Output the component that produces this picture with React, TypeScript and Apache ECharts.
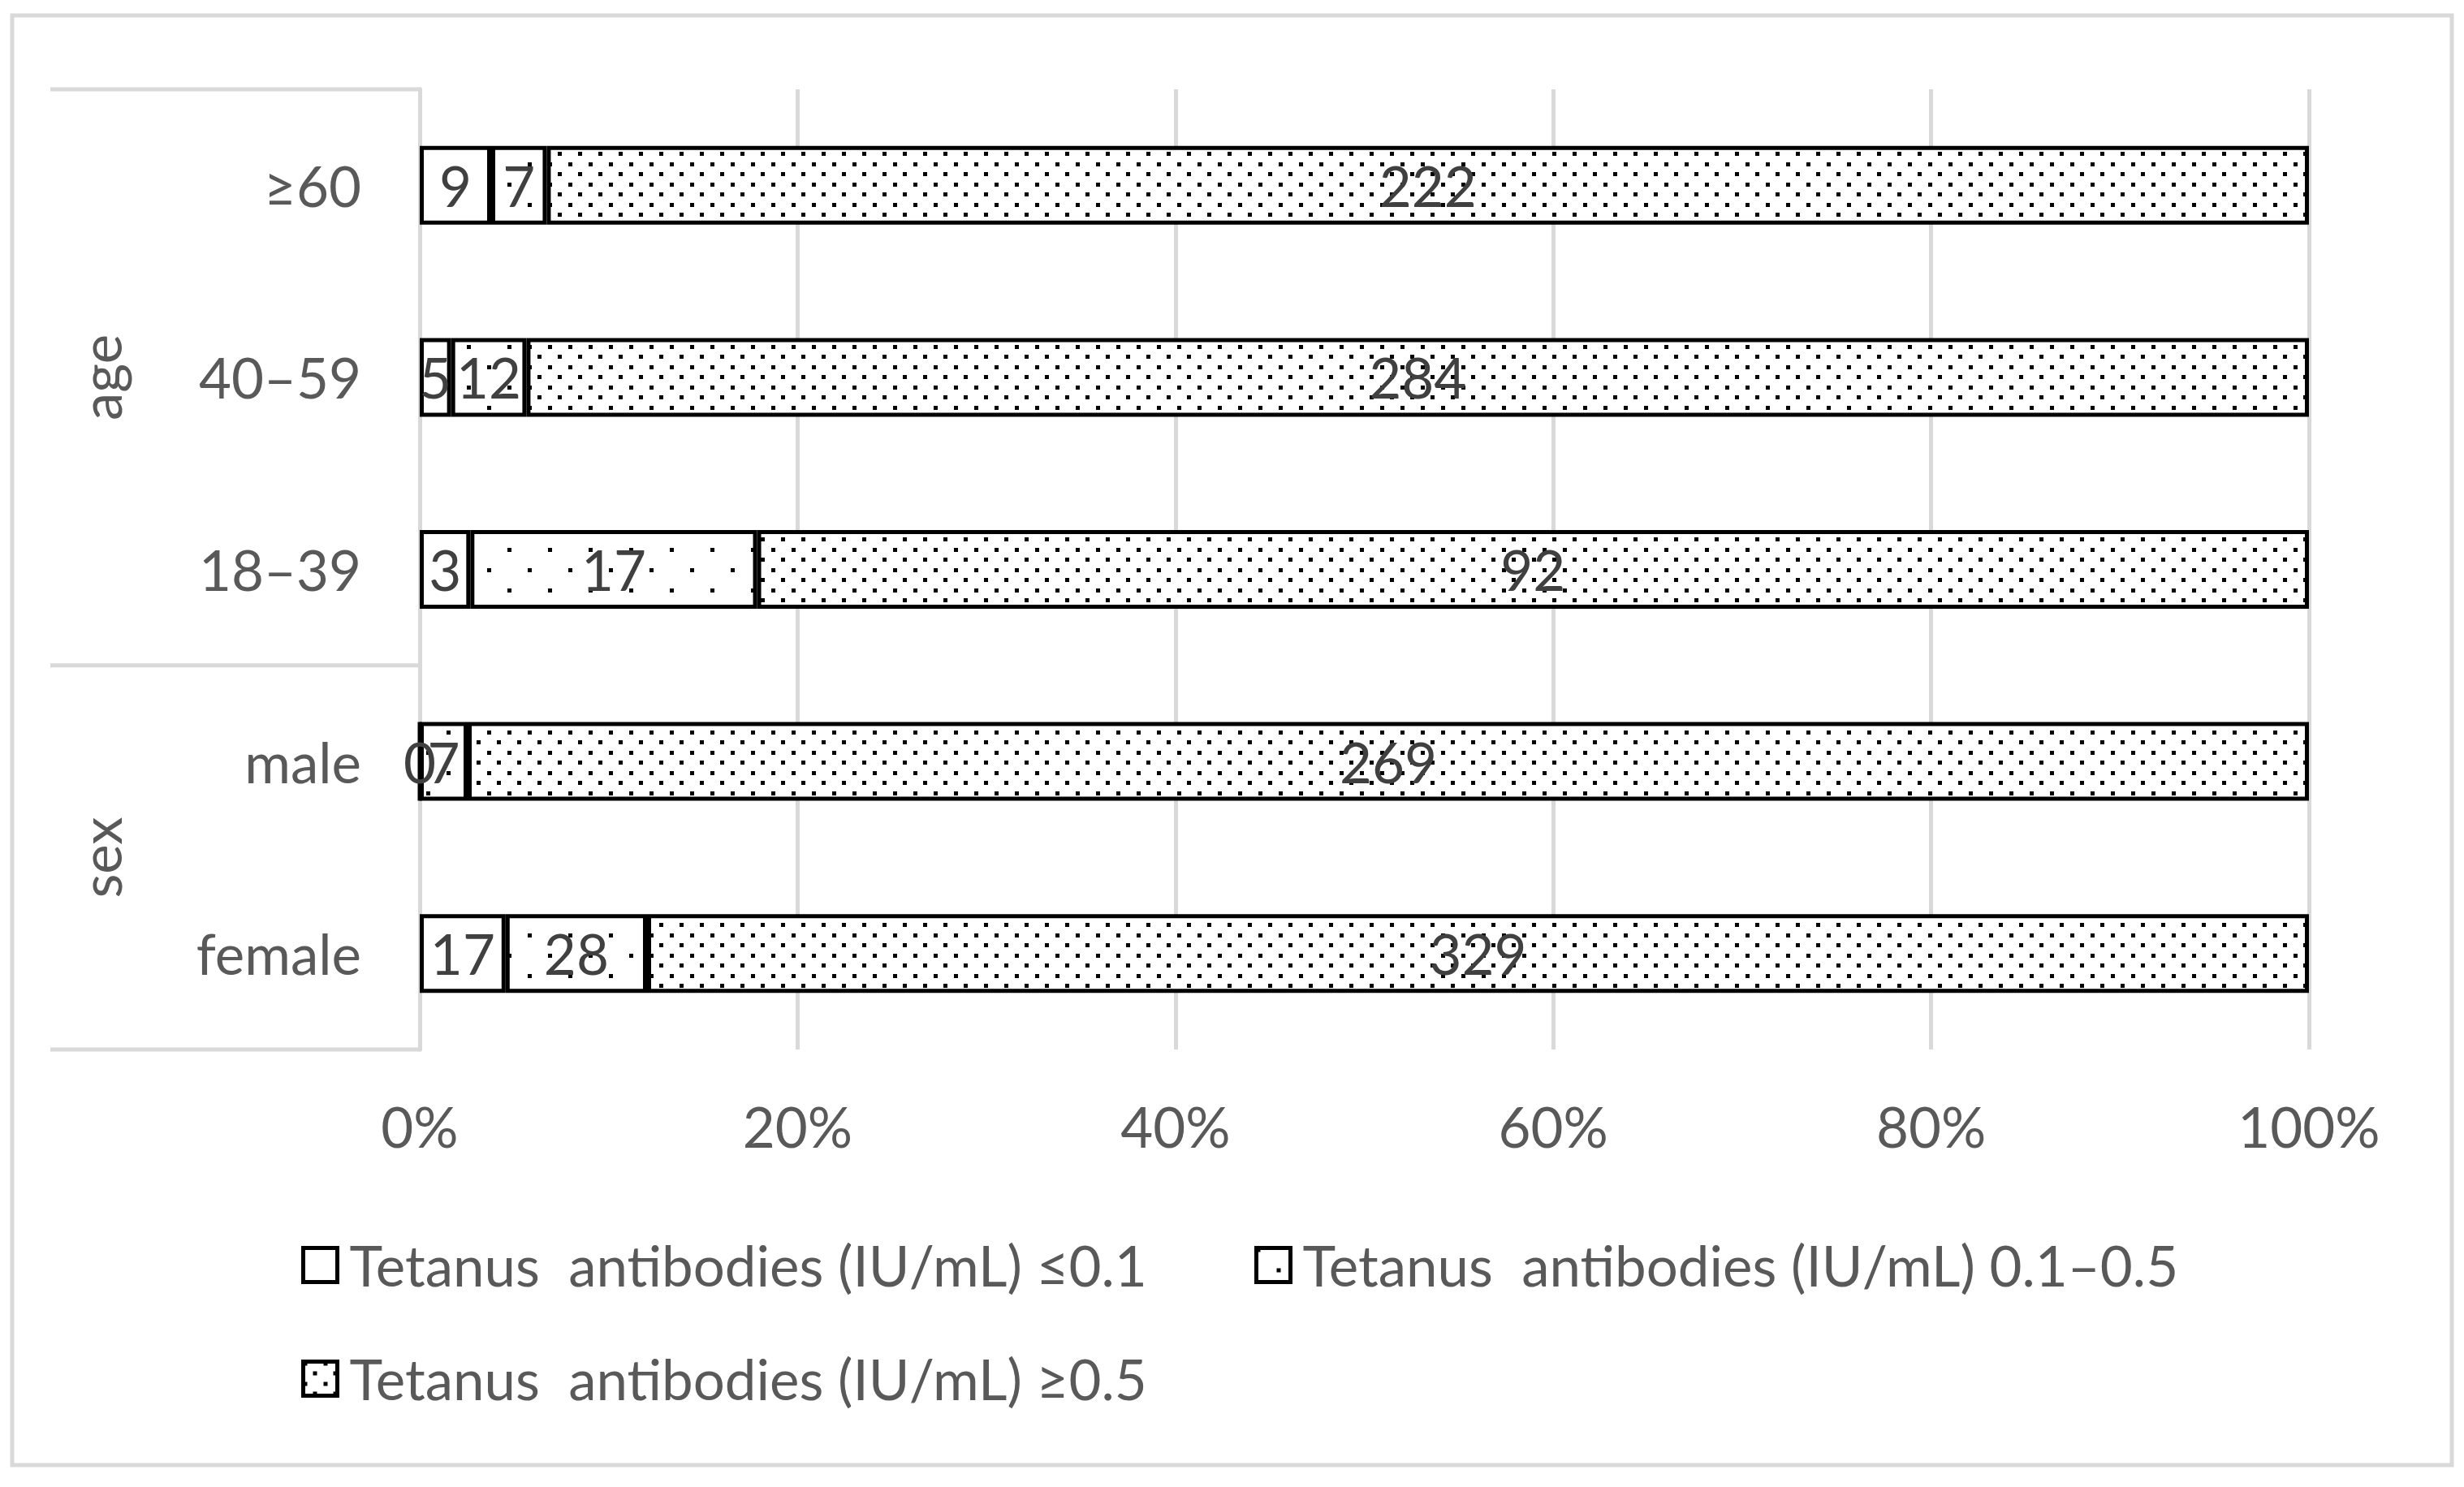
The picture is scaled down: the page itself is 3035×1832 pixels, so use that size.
import React, { useEffect, useRef } from "react";
import * as echarts from "echarts";

// ---- data ----
const categories = ["female", "male", "18–39", "40–59", "≥60"];
const groupNames = ["sex", "age"];
const groupFrom = [0, 2];
const groupTo = [1, 4];
const seriesNames = [
  "Tetanus  antibodies (IU/mL) ≤0.1",
  "Tetanus  antibodies (IU/mL) 0.1–0.5",
  "Tetanus  antibodies (IU/mL) ≥0.5",
];
const lowCounts = [17, 0, 3, 5, 9];
const midCounts = [28, 7, 17, 12, 7];
const highCounts = [329, 269, 92, 284, 222];
const xTickValues = [0, 0.2, 0.4, 0.6, 0.8, 1];

// ---- layout ----
const W = 3035;
const H = 1832;
const GRID_LEFT = 517;
const GRID_RIGHT_X = 2844;
const GRID_TOP = 110;
const GRID_BOTTOM_Y = 1293;
const FONT = "Lato, 'Open Sans', sans-serif";
const FS = 69;

function makeDots(tw: number, th: number, dots: number[][], size: number) {
  const c = document.createElement("canvas");
  c.width = tw;
  c.height = th;
  const ctx = c.getContext("2d")!;
  ctx.fillStyle = "#ffffff";
  ctx.fillRect(0, 0, tw, th);
  ctx.fillStyle = "#000000";
  dots.forEach(([x, y]) => ctx.fillRect(x, y, size, size));
  return c;
}

export default function App() {
  const ref = useRef<HTMLDivElement>(null);

  useEffect(() => {
    if (!ref.current) return;
    const chart = echarts.init(ref.current, undefined, { renderer: "svg" });

    const sparse = makeDots(50, 50, [[0, 0], [25, 25]], 5);
    const dense = makeDots(25, 25, [[0, 0], [12, 12]], 5);
    const fills: any[] = [
      "#ffffff",
      { image: sparse, repeat: "repeat", imageWidth: 50, imageHeight: 50 },
      { image: dense, repeat: "repeat", imageWidth: 25, imageHeight: 25 },
    ];

    const countsList = [lowCounts, midCounts, highCounts];
    const totals = categories.map((_, i) => lowCounts[i] + midCounts[i] + highCounts[i]);

    const band = (GRID_BOTTOM_Y - GRID_TOP) / categories.length;
    const lineYs: number[] = [];
    const graphics: any[] = [
      {
        type: "rect",
        shape: { x: 15, y: 19, width: 3005, height: 1786 },
        style: { fill: "none", stroke: "#d9d9d9", lineWidth: 5 },
        silent: true,
      },
    ];
    groupNames.forEach((g, k) => {
      const yTopEdge = GRID_BOTTOM_Y - (groupTo[k] + 1) * band;
      const yBottomEdge = GRID_BOTTOM_Y - groupFrom[k] * band;
      [yTopEdge, yBottomEdge].forEach((y) => {
        if (!lineYs.some((v) => Math.abs(v - y) < 1)) lineYs.push(y);
      });
      graphics.push({
        type: "text",
        x: 123,
        y: (yTopEdge + yBottomEdge) / 2,
        rotation: Math.PI / 2,
        style: {
          text: g,
          fill: "#595959",
          font: `${FS}px ${FONT}`,
          align: "center",
          verticalAlign: "middle",
        },
        silent: true,
      });
    });
    lineYs.forEach((y) => {
      graphics.push({
        type: "line",
        shape: { x1: 62, y1: y, x2: GRID_LEFT + 2, y2: y },
        style: { stroke: "#d9d9d9", lineWidth: 5 },
        silent: true,
      });
    });

    const legendLefts = [371, 1545, 371];
    const legendTops = [1524, 1524, 1664];

    chart.setOption({
      animation: false,
      backgroundColor: "#ffffff",
      textStyle: { fontFamily: FONT },
      grid: {
        left: GRID_LEFT,
        right: W - GRID_RIGHT_X,
        top: GRID_TOP,
        bottom: H - GRID_BOTTOM_Y,
        containLabel: false,
      },
      legend: seriesNames.map((n, i) => ({
        data: [n],
        left: legendLefts[i],
        top: legendTops[i],
        padding: 0,
        itemWidth: 42,
        itemHeight: 42,
        icon: "rect",
        selectedMode: false,
        itemStyle: { borderColor: "#000000", borderWidth: 5 },
        textStyle: {
          fontSize: FS,
          color: "#595959",
          fontFamily: FONT,
          padding: [0, 0, 0, 10],
        },
      })),
      xAxis: {
        type: "value",
        min: 0,
        max: 1,
        interval: 0.2,
        axisLine: { show: false },
        axisTick: { show: false },
        splitLine: { show: true, lineStyle: { color: "#d9d9d9", width: 5 } },
        axisLabel: {
          fontSize: FS,
          color: "#595959",
          fontFamily: FONT,
          margin: 60,
          formatter: (v: number) =>
            xTickValues.some((t) => Math.abs(t - v) < 1e-9) ? `${Math.round(v * 100)}%` : "",
        },
      },
      yAxis: {
        type: "category",
        data: categories,
        axisLine: { show: true, lineStyle: { color: "#d9d9d9", width: 5 } },
        axisTick: { show: false },
        splitLine: { show: false },
        axisLabel: {
          fontSize: FS,
          color: "#595959",
          fontFamily: FONT,
          margin: 72,
        },
      },
      series: countsList.map((counts, s) => ({
        type: "bar",
        name: seriesNames[s],
        stack: "total",
        barWidth: "41%",
        data: counts.map((v, i) => v / totals[i]),
        itemStyle: { color: fills[s], borderColor: "#000000", borderWidth: 5 },
        label: {
          show: true,
          position: "inside",
          color: "#404040",
          fontSize: FS,
          fontFamily: FONT,
          formatter: (p: any) => String(counts[p.dataIndex]),
        },
        emphasis: { disabled: true },
      })),
      graphic: graphics,
    });

    return () => chart.dispose();
  }, []);

  return (
    <div
      ref={ref}
      style={{ position: "fixed", left: 0, top: 0, width: W, height: H, background: "#fff" }}
    />
  );
}
